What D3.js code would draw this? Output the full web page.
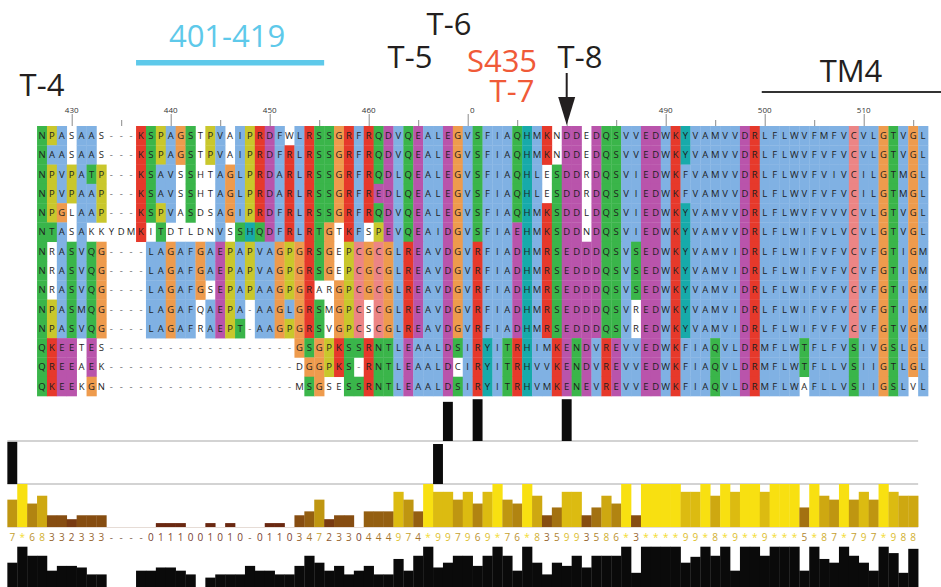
<!DOCTYPE html>
<html>
<head>
<meta charset="utf-8">
<script src="https://cdn.jsdelivr.net/npm/d3@7"></script>
<style>
  html, body { margin: 0; padding: 0; background: #fff; }
  svg { display: block; }
</style>
</head>
<body>
<svg id="chart" width="941" height="587"></svg>
<script>
// ---- alignment (one string per sequence, equal length) ----
const sequences = [
  "NPASAAS---KSPAGSTPVAIPRDFWLRSSGRFRQDVQEALEGVSFIAQHMKNDDEDQSVVEDWKYVAMVVDRLFLWVFMFVCVLGTVGL",
  "NAASAAS---KSPAGSTPVAIPRDFRLRSSGRFRQDVQEALEGVSFIAQHMKNDDEDQSVVEDWKYVAMVVDRLFLWVFVFVCVLGTVGL",
  "NPVPATP---KSAVSSHTAGLPRDARLRSSGRFRQDLQEALEGVSFIAQHLESDDRDQSVIEDWKFVAMVVDRLFLWVFVIVCILGTMGL",
  "NPVPAAP---KSAVSSHTAGLPRDARLRSSGRFREDLQEALEGVSFIAQHLESDDRDQSVIEDWKFVAMVVDRLFLWVFVFVCILGTMGL",
  "NPGLAAP---KSPVASDSAGIPRDFRLRSSGRFRQDVQEALEGVSFIAQHMKSDDLDQSVIEDWKYVAMVVDRLFLWVFVVVCVLGTVGL",
  "NTASAKKYDMKITDTLDNVSSHQDFRLRTGTKFSPEVQEAIDGVSFIAEHMKSDDNDQSVIEDWKYVAMVVDRLFLWIFVLVCVLGTVGL",
  "NRASVQG----LAGAFGAEPAPVAGPGRSGEPCGCGLREAVDGVRFIADHMRSEDDDQSVSEDWKYVAMVIDRLFLWIFVFVCVFGTIGM",
  "NRASVQG----LAGAFGAEPAPVAGPGRSGEPCGCGLREAVDGVRFIADHMRSEDDDQSVSEDWKYVAMVIDRLFLWIFVFVCVFGTIGM",
  "NRASVQG----LAGAFGSEPAPAAGPGRARGPCGCGLREAVDGVRFIADHMRSEDDDQSVSEDWKYVAMVIDRLFLWIFVFVCVFGTIGM",
  "NPASMQG----LAGAFQAEPA-AAGLGRSMGPCSCGLREAVDGVRFIADHMRSEDDDQSVREDWKYVAMVIDRLFLWIFVFVCVFGTIGM",
  "NPASVQG----LAGAFRAEPT-AAGPGRSVGPCSCGLREAVDGVRFIADHMRSEDDDQSVREDWKYVAMVIDRLFLWIFVFVCVFGTVGM",
  "QKEETES-------------------GSGPKSSRNTLEAALDSIRYITRHIMKENDVREVVEDWKFIAQVLDRMFLWTFLFVSIVGSLGL",
  "QREEAEK-------------------DGGPKS-RNTLEAALDCIRYITRHVVKENDVREVVEDWKFIAQVLDRMFLWTFLLVSIIGTLGL",
  "QKEEKGN-------------------MSGSESSRNTLEAALDSIRYITRHVMKENEVREVVEDWKFIAQVLDRMFLWAFLLVSIIGSLVL"
];
// sequence groups used for the Clustal X colouring
const sequenceGroup = [0, 0, 0, 0, 0, 0, 1, 1, 1, 1, 1, 2, 2, 2];

// residue numbering of the ruler
const firstResidueNumber = 427;
const majorTicks = [430, 440, 450, 460, 470, 480, 490, 500, 510];
const minorTicks = [435, 445, 455, 465, 475, 485, 495, 505, 515];
const tickLabels = ["430", "440", "450", "460", "470", "480", "490", "500", "510"];
// leading characters of a ruler label hidden under the callouts
const tickLabelHidden = [0, 0, 0, 0, 2, 3, 0, 0, 0];

// annotation tracks: alignment columns and bar heights (fraction of track)
const siteColumnsA = [41, 44, 53];
const siteValuesA = [0.89, 0.95, 0.95];
const siteColumnsB = [-3, 40];
const siteValuesB = [0.98, 0.93];

// conservation row ("*" = fully conserved, "-" = gapped), starting at column -3
const conservationStart = -3;
const conservationLabels = (
  "7*68332333" + "----011100" + "1010-01103" + "4723304449" + "74*997969*" +
  "76*8359935" + "86*3****99" + "*8*9**9***" + "5*87*797*9" + "88"
).split("");

// alignment quality scores (same columns as the conservation row)
const qualityScores = [
  70, 100, 83, 83, 55, 64, 64, 61, 48, 48,
  0, 0, 0, 55, 55, 61, 61, 55, 48, 0,
  42, 48, 48, 48, 64, 55, 55, 48, 48, 64,
  83, 70, 55, 64, 48, 55, 64, 48, 48, 77,
  55, 83, 100, 61, 70, 83, 83, 64, 83, 100,
  83, 55, 100, 70, 48, 70, 64, 83, 61, 83,
  83, 83, 100, 51, 100, 100, 100, 100, 70, 81,
  100, 83, 100, 55, 100, 100, 83, 100, 100, 100,
  55, 100, 77, 70, 100, 83, 70, 55, 100, 88,
  51, 96
];

// ---- Clustal X colour scheme ----
const CLX = {
  red: "#e6392b", blue: "#80b1e3", green: "#3ab54a", orange: "#ee9b4d",
  cyan: "#17aaaa", pink: "#ec8585", magenta: "#b954ab", yellow: "#c9c72c"
};
const HYDROPHOBIC = "WLVIMAFCYHP";
function consensusSymbols(residues) {
  const n = residues.length;
  const count = {};
  residues.forEach(r => { count[r] = (count[r] || 0) + 1; });
  const pct = set => 100 * [...set].reduce((s, a) => s + (count[a] || 0), 0) / n;
  const sym = new Set();
  if (pct(HYDROPHOBIC) > 60) sym.add("%");
  if (pct(HYDROPHOBIC) > 80) sym.add("#");
  if (pct("ED") > 50) sym.add("-");
  if (pct("KR") > 60) sym.add("+");
  if (pct("G") > 50) sym.add("g");
  if (pct("N") > 50) sym.add("n");
  if (pct("QE") > 50) sym.add("q");
  if (pct("P") > 50) sym.add("p");
  if (pct("TS") > 50) sym.add("t");
  for (const a of "ACDEFGHIKLMNPQRSTVWY") if (pct(a) > 85) sym.add(a);
  return sym;
}
const hydroRule = "%#ACFHILMVWYPp";
const colourRules = {
  G: [["orange", null]],
  P: [["yellow", null]],
  T: [["green", "tST%#"]],
  S: [["green", "tST#"]],
  N: [["green", "nND"]],
  Q: [["green", "qQE+KR"]],
  W: [["blue", hydroRule]], L: [["blue", hydroRule]], V: [["blue", hydroRule]],
  I: [["blue", hydroRule]], M: [["blue", hydroRule]], A: [["blue", hydroRule]],
  F: [["blue", hydroRule]],
  C: [["pink", "C"], ["blue", "%#AFHILMVWYSPp"]],
  H: [["cyan", hydroRule]], Y: [["cyan", hydroRule]],
  E: [["magenta", "-DEqQ"]],
  D: [["magenta", "-DEnN"]],
  K: [["red", "+KRQ"]], R: [["red", "+KRQ"]]
};
function residueColour(res, sym) {
  const rules = colourRules[res];
  if (!rules) return null;
  for (const [c, need] of rules) {
    if (need === null || [...need].some(s => sym.has(s))) return CLX[c];
  }
  return null;
}

// ---- geometry ----
const svg = d3.select("#chart");
const FONT = "'Open Sans', 'Noto Sans', sans-serif";
const nCols = sequences[0].length;
const x = d3.scaleBand().domain(d3.range(-3, nCols)).range([7.35, 928.05]);
const cx = c => x(c) + x.bandwidth() / 2;
const y = d3.scaleBand().domain(d3.range(sequences.length)).range([126, 396]);
const pos = d3.scaleLinear()
  .domain([firstResidueNumber, firstResidueNumber + nCols - 1])
  .range([cx(0), cx(nCols - 1)]);

// ---- alignment cells ----
const groups = d3.groups(d3.range(sequences.length), i => sequenceGroup[i]);
const cells = [];
groups.forEach(([g, rows]) => {
  for (let c = 0; c < nCols; c++) {
    const residues = rows.map(r => sequences[r][c]);
    const sym = consensusSymbols(residues);
    rows.forEach(r => {
      const res = sequences[r][c];
      cells.push({ r, c, res, fill: res === "-" ? null : residueColour(res, sym) });
    });
  }
});

const aln = svg.append("g");
aln.selectAll("rect.cell")
  .data(cells.filter(d => d.fill))
  .join("rect")
  .attr("class", "cell")
  .attr("x", d => x(d.c))
  .attr("y", d => y(d.r))
  .attr("width", x.bandwidth() + 0.3)
  .attr("height", y.bandwidth() + 0.3)
  .attr("fill", d => d.fill);

aln.selectAll("text.res")
  .data(cells)
  .join("text")
  .attr("class", "res")
  .attr("x", d => cx(d.c))
  .attr("y", d => y(d.r) + y.bandwidth() / 2)
  .attr("dy", "0.36em")
  .attr("text-anchor", "middle")
  .attr("font-family", FONT)
  .attr("font-size", 9.5)
  .attr("fill", d => d.res === "-" ? "#666" : "#1e1e1e")
  .text(d => d.res);

// ---- residue ruler ----
const ruler = svg.append("g").attr("transform", `translate(0,${y.range()[0]})`);
ruler.append("g")
  .call(d3.axisTop(pos).tickValues(majorTicks).tickSize(12).tickFormat(""))
  .call(g => g.select(".domain").remove())
  .call(g => g.selectAll("line").attr("stroke", "#8a8a8a").attr("stroke-width", 1));
ruler.append("g")
  .call(d3.axisTop(pos).tickValues(minorTicks).tickSize(6).tickFormat(""))
  .call(g => g.select(".domain").remove())
  .call(g => g.selectAll("line").attr("stroke", "#8a8a8a").attr("stroke-width", 1));
const lbl = ruler.selectAll("text.tick-label")
  .data(majorTicks)
  .join("text")
  .attr("class", "tick-label")
  .attr("x", d => pos(d))
  .attr("y", -13.5)
  .attr("text-anchor", "middle")
  .attr("font-family", FONT)
  .attr("font-size", 8)
  .attr("fill", "#333");
lbl.append("tspan").attr("fill", "#fff").text((d, i) => tickLabels[i].slice(0, tickLabelHidden[i]));
lbl.append("tspan").text((d, i) => tickLabels[i].slice(tickLabelHidden[i]));

// ---- header annotations ----
const head = svg.append("g").attr("font-family", FONT).attr("font-size", 31);
const dark = "#231f20", red = "#f05a38", sky = "#5ec9ea";
head.append("text").attr("x", cx(0)).attr("y", 96).attr("text-anchor", "middle").attr("fill", dark).text("T-4");
head.append("rect").attr("x", x(10)).attr("y", 60).attr("width", x(29) - x(10)).attr("height", 5.5).attr("fill", sky);
head.append("text").attr("x", (x(10) + x(29)) / 2 - 3).attr("y", 47).attr("text-anchor", "middle").attr("fill", sky).text("401-419");
head.append("text").attr("x", 410).attr("y", 68).attr("text-anchor", "middle").attr("fill", dark).text("T-5");
head.append("text").attr("x", 449).attr("y", 35).attr("text-anchor", "middle").attr("fill", dark).text("T-6");
head.append("text").attr("x", 502).attr("y", 72).attr("text-anchor", "middle").attr("fill", red).text("S435");
head.append("text").attr("x", 512).attr("y", 102).attr("text-anchor", "middle").attr("fill", red).text("T-7");
head.append("text").attr("x", 580).attr("y", 68).attr("text-anchor", "middle").attr("fill", dark).text("T-8");
head.append("text").attr("x", 851).attr("y", 82).attr("text-anchor", "middle").attr("fill", dark).text("TM4");
head.append("line").attr("x1", x(73) + 2).attr("x2", 941).attr("y1", 92).attr("y2", 92)
  .attr("stroke", "#333").attr("stroke-width", 2);

// arrow onto the T-8 column
const ax = cx(53);
head.append("line").attr("x1", ax).attr("x2", ax).attr("y1", 73).attr("y2", 100)
  .attr("stroke", dark).attr("stroke-width", 2);
head.append("path")
  .attr("d", `M${ax - 8.5},97 L${ax + 8.5},97 L${ax},125 Z`)
  .attr("fill", dark);

// ---- annotation tracks below the alignment ----
const trackLeft = x(-3), trackRight = x(88) + x.bandwidth();
const tracks = svg.append("g");
[441, 484].forEach(yy => tracks.append("line")
  .attr("x1", trackLeft).attr("x2", trackRight).attr("y1", yy).attr("y2", yy)
  .attr("stroke", "#c4c4c4").attr("stroke-width", 1.5));
tracks.append("line").attr("x1", trackLeft).attr("x2", trackRight).attr("y1", 527.5).attr("y2", 527.5)
  .attr("stroke", "#e6dcd6").attr("stroke-width", 1);

const trackA = { top: 397, bottom: 441 };
tracks.selectAll("rect.siteA")
  .data(siteColumnsA.map((c, i) => ({ c, v: siteValuesA[i] })))
  .join("rect").attr("class", "siteA")
  .attr("x", d => x(d.c)).attr("width", x.bandwidth())
  .attr("y", d => trackA.bottom - d.v * (trackA.bottom - trackA.top))
  .attr("height", d => d.v * (trackA.bottom - trackA.top))
  .attr("fill", "#0b0b0b");
const trackB = { top: 441, bottom: 484 };
tracks.selectAll("rect.siteB")
  .data(siteColumnsB.map((c, i) => ({ c, v: siteValuesB[i] })))
  .join("rect").attr("class", "siteB")
  .attr("x", d => x(d.c)).attr("width", x.bandwidth())
  .attr("y", d => trackB.bottom - d.v * (trackB.bottom - trackB.top))
  .attr("height", d => d.v * (trackB.bottom - trackB.top))
  .attr("fill", "#0b0b0b");

// conservation histogram (Jalview brown-to-yellow shading)
const consValue = s => s === "*" ? 11 : s === "-" ? null : +s;
const consColour = v => d3.rgb(255 * (0.3 + 0.7 * v / 11), 255 * (0.9 * v / 11), 0);
const consY = d3.scaleLinear().domain([0, 11]).range([527, 484]);
const consData = conservationLabels.map((s, i) => ({ c: conservationStart + i, s, v: consValue(s) }));
tracks.selectAll("rect.cons")
  .data(consData.filter(d => d.v > 0))
  .join("rect").attr("class", "cons")
  .attr("x", d => x(d.c)).attr("width", x.bandwidth() + 0.3)
  .attr("y", d => consY(d.v)).attr("height", d => consY(0) - consY(d.v))
  .attr("fill", d => d3.interpolateRgb(consColour(d.v), "#c8b48a")(0.12));
tracks.selectAll("text.cons")
  .data(consData)
  .join("text").attr("class", "cons")
  .attr("x", d => cx(d.c)).attr("y", 537).attr("dy", "0.36em")
  .attr("text-anchor", "middle")
  .attr("font-family", FONT).attr("font-size", 10)
  .attr("fill", d => d.v === null ? "#8a6a55" : d3.interpolateRgb(consColour(d.v), "#d8c4a0")(0.3))
  .text(d => d.s);

// quality histogram
const qualY = d3.scaleLinear().domain([0, 100]).range([600, 546.7]);
tracks.selectAll("rect.qual")
  .data(qualityScores.map((q, i) => ({ c: conservationStart + i, q })).filter(d => d.q > 0))
  .join("rect").attr("class", "qual")
  .attr("x", d => x(d.c)).attr("width", x.bandwidth() + 0.3)
  .attr("y", d => qualY(d.q)).attr("height", d => qualY(0) - qualY(d.q))
  .attr("fill", "#0a0a0a");
</script>
</body>
</html>
